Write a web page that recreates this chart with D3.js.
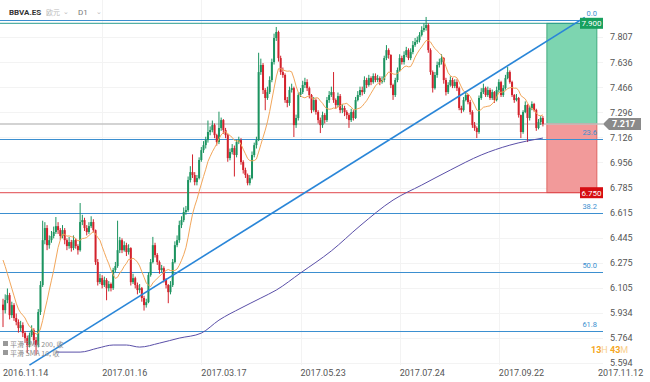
<!DOCTYPE html>
<html><head><meta charset="utf-8">
<script src="https://cdn.jsdelivr.net/npm/d3@7/dist/d3.min.js"></script>
<style>html,body{margin:0;padding:0;background:#fff;}svg{display:block;font-family:Roboto,"Liberation Sans",Arial,sans-serif;}</style>
</head><body><div id="chart"></div>
<script>
// ---------------- DATA ----------------
const symbol = "BBVA.ES";
const timeframe = "D1";
const closes = [
5.953,6.021,6.055,5.919,5.987,5.899,5.872,5.831,5.851,5.797,
5.763,5.715,5.783,5.817,5.749,5.715,5.940,6.123,6.428,6.510,
6.394,6.428,6.456,6.483,6.523,6.496,6.456,6.496,6.428,6.388,
6.415,6.374,6.428,6.388,6.360,6.551,6.564,6.510,6.483,6.523,
6.551,6.496,6.279,6.143,6.170,6.123,6.157,6.102,6.130,6.102,
6.225,6.252,6.360,6.428,6.360,6.394,6.347,6.374,6.143,6.170,
6.123,6.089,6.102,6.035,5.987,6.007,6.191,6.279,6.394,6.327,
6.279,6.225,6.238,6.157,6.123,6.075,6.123,6.279,6.394,6.428,
6.530,6.564,6.619,6.632,6.836,6.890,6.870,6.822,6.849,6.972,
7.039,7.073,7.107,7.162,7.175,7.209,7.141,7.094,7.189,7.243,
7.175,7.141,6.985,7.026,7.053,7.006,7.094,7.107,6.958,6.904,
6.870,6.815,6.849,7.006,7.073,7.107,7.569,7.617,7.447,7.393,
7.433,7.515,7.637,7.800,7.841,7.664,7.569,7.549,7.379,7.359,
7.447,7.460,7.209,7.257,7.413,7.433,7.481,7.501,7.460,7.413,
7.311,7.379,7.298,7.243,7.209,7.277,7.243,7.379,7.413,7.433,
7.379,7.345,7.406,7.311,7.325,7.298,7.277,7.243,7.298,7.257,
7.379,7.413,7.447,7.433,7.515,7.481,7.528,7.501,7.542,7.515,
7.528,7.501,7.515,7.664,7.718,7.685,7.481,7.413,7.515,7.583,
7.664,7.637,7.685,7.718,7.664,7.705,7.752,7.773,7.786,7.820,
7.854,7.868,7.888,7.718,7.569,7.460,7.549,7.617,7.637,7.664,
7.515,7.433,7.481,7.515,7.474,7.501,7.460,7.325,7.311,7.379,
7.413,7.365,7.298,7.209,7.189,7.162,7.393,7.433,7.460,7.413,
7.447,7.393,7.433,7.379,7.447,7.501,7.413,7.460,7.528,7.569,
7.501,7.413,7.379,7.393,7.277,7.162,7.298,7.345,7.257,7.325,
7.352,7.311,7.189,7.230,7.257,7.217];
const opens = [
5.990,5.953,6.021,6.055,5.919,5.987,5.899,5.872,5.831,5.851,
5.797,5.763,5.715,5.783,5.817,5.749,5.715,5.940,6.123,6.428,
6.510,6.394,6.428,6.456,6.483,6.523,6.496,6.456,6.496,6.428,
6.388,6.415,6.374,6.428,6.388,6.360,6.551,6.564,6.510,6.483,
6.523,6.551,6.496,6.279,6.143,6.170,6.123,6.157,6.102,6.130,
6.102,6.225,6.252,6.360,6.428,6.360,6.394,6.347,6.374,6.143,
6.170,6.123,6.089,6.102,6.035,5.987,6.007,6.191,6.279,6.394,
6.327,6.279,6.225,6.238,6.157,6.123,6.075,6.123,6.279,6.394,
6.428,6.530,6.564,6.619,6.632,6.836,6.890,6.870,6.822,6.849,
6.972,7.039,7.073,7.107,7.162,7.175,7.209,7.141,7.094,7.189,
7.243,7.175,7.141,6.985,7.026,7.053,7.006,7.094,7.107,6.958,
6.904,6.870,6.815,6.849,7.006,7.073,7.107,7.569,7.617,7.447,
7.393,7.433,7.515,7.637,7.800,7.841,7.664,7.569,7.549,7.379,
7.359,7.447,7.460,7.209,7.257,7.413,7.433,7.481,7.501,7.460,
7.413,7.311,7.379,7.298,7.243,7.209,7.277,7.243,7.379,7.413,
7.433,7.379,7.345,7.406,7.311,7.325,7.298,7.277,7.243,7.298,
7.257,7.379,7.413,7.447,7.433,7.515,7.481,7.528,7.501,7.542,
7.515,7.528,7.501,7.515,7.664,7.718,7.685,7.481,7.413,7.515,
7.583,7.664,7.637,7.685,7.718,7.664,7.705,7.752,7.773,7.786,
7.820,7.854,7.868,7.888,7.718,7.569,7.460,7.549,7.617,7.637,
7.664,7.515,7.433,7.481,7.515,7.474,7.501,7.460,7.325,7.311,
7.379,7.413,7.365,7.298,7.209,7.189,7.162,7.393,7.433,7.460,
7.413,7.447,7.393,7.433,7.379,7.447,7.501,7.413,7.460,7.528,
7.569,7.501,7.413,7.379,7.393,7.277,7.162,7.298,7.345,7.257,
7.325,7.352,7.311,7.189,7.230,7.257];
const highs = [
6.03,6.06,6.10,6.07,6.01,6.00,5.93,5.89,5.88,5.87,
5.81,5.78,5.80,5.85,5.83,5.77,5.96,6.15,6.56,6.55,
6.53,6.46,6.49,6.52,6.585,6.55,6.51,6.53,6.51,6.44,
6.45,6.43,6.46,6.44,6.40,6.68,6.60,6.58,6.53,6.55,
6.59,6.57,6.50,6.30,6.20,6.19,6.18,6.17,6.15,6.14,
6.24,6.28,6.56,6.45,6.44,6.42,6.41,6.40,6.38,6.20,
6.18,6.14,6.13,6.11,6.05,6.03,6.21,6.30,6.45,6.41,
6.34,6.29,6.26,6.25,6.17,6.13,6.15,6.30,6.42,6.46,
6.56,6.59,6.65,6.66,6.86,6.93,7.01,6.89,6.87,6.99,
7.06,7.10,7.13,7.24,7.20,7.24,7.22,7.15,7.30,7.26,
7.25,7.19,7.15,7.05,7.08,7.07,7.11,7.13,7.12,6.97,
6.92,6.88,6.87,7.03,7.09,7.13,7.70,7.66,7.63,7.46,
7.47,7.54,7.66,7.83,7.875,7.85,7.68,7.60,7.56,7.40,
7.47,7.49,7.47,7.28,7.43,7.46,7.51,7.53,7.52,7.47,
7.42,7.40,7.39,7.31,7.26,7.30,7.29,7.40,7.44,7.47,
7.569,7.39,7.43,7.42,7.35,7.34,7.31,7.29,7.32,7.31,
7.40,7.44,7.47,7.47,7.54,7.53,7.55,7.54,7.56,7.56,
7.55,7.54,7.54,7.68,7.752,7.73,7.69,7.49,7.53,7.60,
7.69,7.68,7.71,7.74,7.73,7.73,7.78,7.80,7.81,7.84,
7.88,7.90,7.943,7.90,7.73,7.58,7.57,7.64,7.66,7.69,
7.67,7.53,7.50,7.54,7.53,7.52,7.52,7.47,7.34,7.40,
7.44,7.42,7.38,7.31,7.23,7.20,7.41,7.46,7.49,7.47,
7.47,7.46,7.45,7.44,7.47,7.52,7.51,7.48,7.55,7.603,
7.58,7.51,7.42,7.42,7.40,7.28,7.31,7.37,7.35,7.34,
7.37,7.36,7.32,7.25,7.27,7.27];
const lows = [
5.838,5.93,6.00,5.89,5.90,5.88,5.85,5.80,5.81,5.77,
5.73,5.66,5.70,5.77,5.72,5.65,5.70,5.92,6.11,6.40,
6.36,6.37,6.41,6.44,6.47,6.47,6.43,6.44,6.40,6.36,
6.37,6.35,6.36,6.37,6.33,6.35,6.53,6.49,6.46,6.47,
6.51,6.48,6.26,6.12,6.13,6.10,6.11,6.02,6.08,6.08,
6.09,6.21,6.24,6.34,6.34,6.35,6.32,6.33,6.12,6.13,
6.10,6.06,6.07,6.01,5.95,5.97,6.00,6.18,6.27,6.31,
6.26,6.20,6.21,6.14,6.10,6.00,6.06,6.11,6.27,6.38,
6.41,6.51,6.55,6.60,6.62,6.82,6.85,6.80,6.80,6.84,
6.96,7.02,7.05,7.09,7.14,7.16,7.12,7.07,7.08,7.17,
7.15,7.12,6.96,6.97,7.01,6.86,6.99,7.08,6.94,6.88,
6.85,6.80,6.80,6.84,6.99,7.05,7.10,7.55,7.42,7.31,
7.38,7.42,7.50,7.62,7.78,7.64,7.55,7.53,7.36,7.33,
7.34,7.43,7.128,7.19,7.24,7.40,7.42,7.46,7.44,7.39,
7.29,7.30,7.28,7.22,7.155,7.19,7.22,7.23,7.36,7.40,
7.36,7.32,7.33,7.29,7.29,7.27,7.25,7.19,7.23,7.24,
7.25,7.37,7.40,7.41,7.42,7.46,7.47,7.48,7.49,7.50,
7.50,7.48,7.49,7.50,7.65,7.66,7.46,7.38,7.40,7.50,
7.57,7.62,7.62,7.67,7.65,7.65,7.69,7.74,7.76,7.77,
7.81,7.84,7.85,7.70,7.55,7.43,7.45,7.53,7.60,7.62,
7.49,7.41,7.42,7.47,7.46,7.46,7.44,7.31,7.29,7.30,
7.37,7.35,7.28,7.19,7.17,7.121,7.15,7.38,7.42,7.40,
7.40,7.38,7.38,7.36,7.37,7.43,7.40,7.40,7.45,7.52,
7.49,7.40,7.36,7.37,7.26,7.121,7.15,7.29,7.094,7.24,
7.31,7.30,7.17,7.18,7.21,7.20];
// SMA(10) values before enough bars are visible
const sma10Early = [6.293,6.25,6.20,6.15,6.10,6.05,6.00,5.96,5.935];
const sma10Period = 10;
// SMA(200): [bar index, value]
const sma200 = [[24,5.668],[35,5.668],[43,5.695],[50,5.716],[56,5.716],[62,5.702],[71,5.729],[80,5.763],[90,5.797],[98,5.885],[108,5.967],[117,6.035],[124,6.089],[135,6.205],[149,6.355],[162,6.525],[177,6.700],[190,6.802],[203,6.904],[217,7.006],[230,7.073],[245,7.121]];
const priceTicks = [7.807,7.636,7.466,7.296,7.126,6.956,6.785,6.615,6.445,6.275,6.105,5.934,5.764,5.594];
const dateTicks = [[0,"2016.11.14"],[45,"2017.01.16"],[90,"2017.03.17"],[135,"2017.05.23"],[180,"2017.07.24"],[225,"2017.09.22"],[270,"2017.11.12"]];
const fibHigh = 7.92, fibLow = 4.505;
const fibLevels = [0, 23.6, 38.2, 50.0, 61.8];
const trendLine = [[12,5.58],[264,7.94]];
const lastPrice = 7.217, takeProfit = 7.900, stopLoss = 6.750;
const countdown = ["13", "H ", "43", "M"];
const legendRows = ["平滑 SMA 200, 收", "平滑 SMA 10, 收"];

// ---------------- CHART ----------------
const W = 650, H = 382, plotRight = 603;
const svg = d3.select("#chart").append("svg").attr("width", W).attr("height", H);
const x = d3.scaleLinear().domain([0, 270]).range([3, 598]);
const y = d3.scaleLinear().domain([5.594, 7.807]).range([363, 37]);

// grid
svg.append("g").selectAll("line").data(priceTicks).join("line")
  .attr("x1", 0).attr("x2", plotRight).attr("y1", d => Math.round(y(d)) + 0.5).attr("y2", d => Math.round(y(d)) + 0.5)
  .attr("stroke", "#f3f3f3");
svg.append("g").selectAll("line").data(dateTicks.slice(1, 6)).join("line")
  .attr("x1", d => Math.round(x(d[0])) + 0.5).attr("x2", d => Math.round(x(d[0])) + 0.5)
  .attr("y1", 0).attr("y2", 365).attr("stroke", "#f3f3f3");

// right axis
const yAxis = d3.axisRight(y).tickValues(priceTicks).tickFormat(d3.format(".3f")).tickSize(0).tickPadding(0);
const ga = svg.append("g").attr("transform", `translate(610,0)`).call(yAxis);
ga.select(".domain").remove();
ga.selectAll("text").attr("font-size", 9).attr("fill", "#555").attr("font-family", "Roboto,Arial,sans-serif");

// bottom axis labels (left aligned at bar)
svg.append("g").selectAll("text").data(dateTicks).join("text")
  .attr("x", d => x(d[0])).attr("y", 376).attr("font-size", 9).attr("fill", "#555").text(d => d[1]);

// position box
const bx0 = x(246.8), bx1 = x(269.5);
svg.append("rect").attr("x", bx0).attr("y", y(takeProfit)).attr("width", bx1 - bx0).attr("height", y(lastPrice) - y(takeProfit))
  .attr("fill", "#7dd5b0").attr("stroke", "#2a9d6f").attr("stroke-width", 0.8);
svg.append("rect").attr("x", bx0).attr("y", y(lastPrice)).attr("width", bx1 - bx0).attr("height", y(stopLoss) - y(lastPrice))
  .attr("fill", "#f29a9a").attr("stroke", "#d9534f").attr("stroke-width", 0.8);

// fib levels
const fibPrice = l => fibHigh - (fibHigh - fibLow) * l / 100;
svg.append("g").selectAll("line").data(fibLevels).join("line")
  .attr("x1", 0).attr("x2", plotRight).attr("y1", d => Math.round(y(fibPrice(d))) + 0.5).attr("y2", d => Math.round(y(fibPrice(d))) + 0.5)
  .attr("stroke", "#3b8fd0").attr("stroke-width", 1);
svg.append("g").selectAll("text").data(fibLevels).join("text")
  .attr("x", 597).attr("y", d => y(fibPrice(d)) - 4).attr("text-anchor", "end")
  .attr("font-size", 7.5).attr("fill", "#3b8fd0").text(d => d.toFixed(1));

// horizontal lines
svg.append("line").attr("x1", 0).attr("x2", plotRight).attr("y1", y(takeProfit)).attr("y2", y(takeProfit)).attr("stroke", "#2a9d8f").attr("stroke-width", 1);
svg.append("line").attr("x1", 0).attr("x2", plotRight).attr("y1", y(stopLoss)).attr("y2", y(stopLoss)).attr("stroke", "#e0474c").attr("stroke-width", 1);
svg.append("line").attr("x1", 0).attr("x2", plotRight).attr("y1", y(lastPrice)).attr("y2", y(lastPrice)).attr("stroke", "#c4c4c4").attr("stroke-width", 1.5);

// candles
const idx = d3.range(closes.length);
const up = "#1c9460", dn = "#d3222c";
const cg = svg.append("g");
cg.selectAll("line").data(idx).join("line")
  .attr("x1", i => x(i)).attr("x2", i => x(i)).attr("y1", i => y(highs[i])).attr("y2", i => y(lows[i]))
  .attr("stroke", i => closes[i] >= opens[i] ? up : dn).attr("stroke-width", 1);
cg.selectAll("rect").data(idx).join("rect")
  .attr("x", i => x(i) - 1).attr("width", 2)
  .attr("y", i => y(Math.max(opens[i], closes[i])))
  .attr("height", i => Math.max(1, Math.abs(y(opens[i]) - y(closes[i]))))
  .attr("fill", i => closes[i] >= opens[i] ? up : dn);

// SMA 10
const sma10 = idx.map(i => i < sma10Period - 1 ? sma10Early[i] : d3.mean(closes.slice(i - sma10Period + 1, i + 1)));
svg.append("path").datum(idx).attr("fill", "none").attr("stroke", "#f2a65a").attr("stroke-width", 1)
  .attr("d", d3.line().x(i => x(i)).y(i => y(sma10[i])));
// SMA 200
svg.append("path").datum(sma200).attr("fill", "none").attr("stroke", "#5a4fa8").attr("stroke-width", 1)
  .attr("d", d3.line().x(d => x(d[0])).y(d => y(d[1])).curve(d3.curveMonotoneX));

// trend line
svg.append("line").attr("x1", x(trendLine[0][0])).attr("y1", y(trendLine[0][1]))
  .attr("x2", x(trendLine[1][0])).attr("y2", y(trendLine[1][1]))
  .attr("stroke", "#2a86d8").attr("stroke-width", 1.6);

// price tags
function tag(price, color) {
  const yy = y(price);
  svg.append("rect").attr("x", 580).attr("y", yy - 5.5).attr("width", 23).attr("height", 11).attr("fill", color);
  svg.append("text").attr("x", 591.5).attr("y", yy + 3).attr("text-anchor", "middle").attr("font-size", 8)
    .attr("fill", "#fff").text(price.toFixed(3));
}
tag(takeProfit, "#18a05e");
tag(stopLoss, "#d60d12");
{
  const yy = y(lastPrice);
  svg.append("path").attr("d", `M603,${yy} L609,${yy - 6} L641,${yy - 6} L641,${yy + 6} L609,${yy + 6} Z`).attr("fill", "#8a8a8a");
  svg.append("text").attr("x", 612).attr("y", yy + 3.5).attr("font-size", 9).attr("font-weight", "bold")
    .attr("fill", "#fff").text(lastPrice.toFixed(3));
}

// header
svg.append("text").attr("x", 9).attr("y", 15).attr("font-size", 8).attr("font-weight", "bold").attr("fill", "#333").text(symbol);
svg.append("text").attr("x", 46).attr("y", 15).attr("font-size", 7).attr("fill", "#bbb").attr("font-family", "Noto Sans CJK SC").text("欧元");
svg.append("text").attr("x", 63).attr("y", 14).attr("font-size", 7).attr("fill", "#bbb").text("⌄");
svg.append("text").attr("x", 78).attr("y", 15).attr("font-size", 8).attr("fill", "#777").text(timeframe);
svg.append("text").attr("x", 96).attr("y", 14).attr("font-size", 7).attr("fill", "#bbb").text("⌄");

// legend
const lg = svg.append("g").attr("font-size", 7).attr("fill", "#888").attr("font-family", "Noto Sans CJK SC");
legendRows.forEach((t, k) => {
  lg.append("rect").attr("x", 3).attr("y", 341 + k * 9).attr("width", 5).attr("height", 5).attr("fill", "#999");
  lg.append("text").attr("x", 10).attr("y", 347 + k * 9).text(t);
});

// countdown
const ct = svg.append("text").attr("x", 591).attr("y", 353).attr("font-size", 9).attr("font-weight", "bold");
countdown.forEach((t, k) => ct.append("tspan").attr("fill", k % 2 === 0 ? "#f5a623" : "#f8cf8e").attr("font-weight", k % 2 === 0 ? "bold" : "normal").text(t));
</script></body></html>
